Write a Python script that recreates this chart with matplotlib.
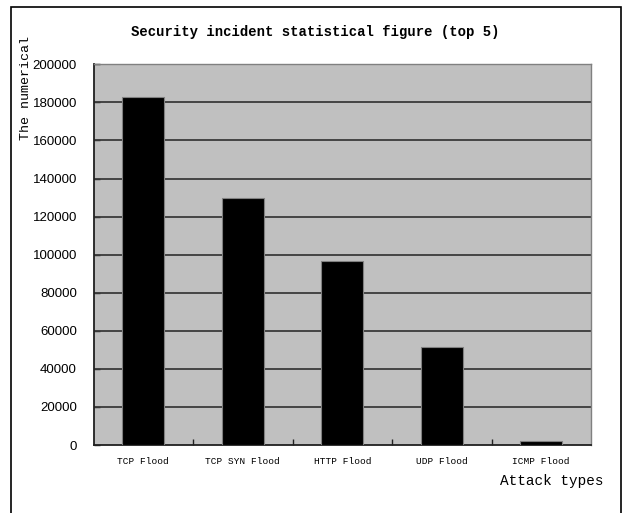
import matplotlib
matplotlib.use("Agg")
import matplotlib.pyplot as plt
from matplotlib.patches import Rectangle
import numpy as np

categories = ["TCP Flood", "TCP SYN Flood", "HTTP Flood", "UDP Flood", "ICMP Flood"]
values = [183000, 130000, 96500, 51500, 2000]
yticks = list(range(0, 200001, 20000))

W, H = 624, 513
fig = plt.figure(figsize=(W / 100, H / 100), dpi=100)
fig.patch.set_facecolor("white")

# outer chart border (bottom edge lies outside the image)
fig.add_artist(Rectangle((11 / W, -0.05), (621 - 11) / W, (H - 7) / H + 0.05,
                         transform=fig.transFigure, fill=False,
                         edgecolor="black", linewidth=1.2))

left, right, top, bottom = 93.5, 591, 64.3, 445
ax = fig.add_axes([left / W, (H - bottom) / H, (right - left) / W, (bottom - top) / H])
ax.set_facecolor("#C0C0C0")

x = np.arange(len(categories))
ax.bar(x, values, width=0.42, color="black", edgecolor="#808080", linewidth=0.8, zorder=3)

ax.set_xlim(-0.5, len(categories) - 0.5)
ax.set_ylim(0, 200000)

ax.set_yticks(yticks)
ax.set_yticklabels([str(v) for v in yticks], fontfamily="Liberation Sans", fontsize=9.5)
for v in yticks[1:-1]:
    ax.axhline(v, color="#3a3a3a", linewidth=1.3, zorder=2)

ax.set_xticks(x)
ax.set_xticklabels(categories, fontfamily="Liberation Mono", fontsize=6.8)
ax.set_xticks(np.arange(0.5, len(categories) - 0.5, 1.0), minor=True)
ax.tick_params(axis="x", which="major", length=0, pad=9)
ax.tick_params(axis="x", which="minor", direction="in", length=4, width=1, color="#202020")
ax.tick_params(axis="y", direction="in", length=4, width=1, color="#202020", pad=12)

for s in ["top", "right"]:
    ax.spines[s].set_color("#808080")
    ax.spines[s].set_linewidth(1.0)
for s in ["left", "bottom"]:
    ax.spines[s].set_color("#202020")
    ax.spines[s].set_linewidth(1.3)

fig.text(315 / W, 1 - 32 / H, "Security incident statistical figure (top 5)",
         ha="center", va="center", fontfamily="Liberation Mono", fontweight="bold", fontsize=10)
fig.text(26 / W, 1 - 88 / H, "The numerical", rotation=90, ha="center", va="center",
         fontfamily="Liberation Mono", fontsize=9.6)
fig.text(604 / W, 1 - 481 / H, "Attack types", ha="right", va="center",
         fontfamily="Liberation Mono", fontsize=10.4)

fig.savefig("out.png", dpi=100)
